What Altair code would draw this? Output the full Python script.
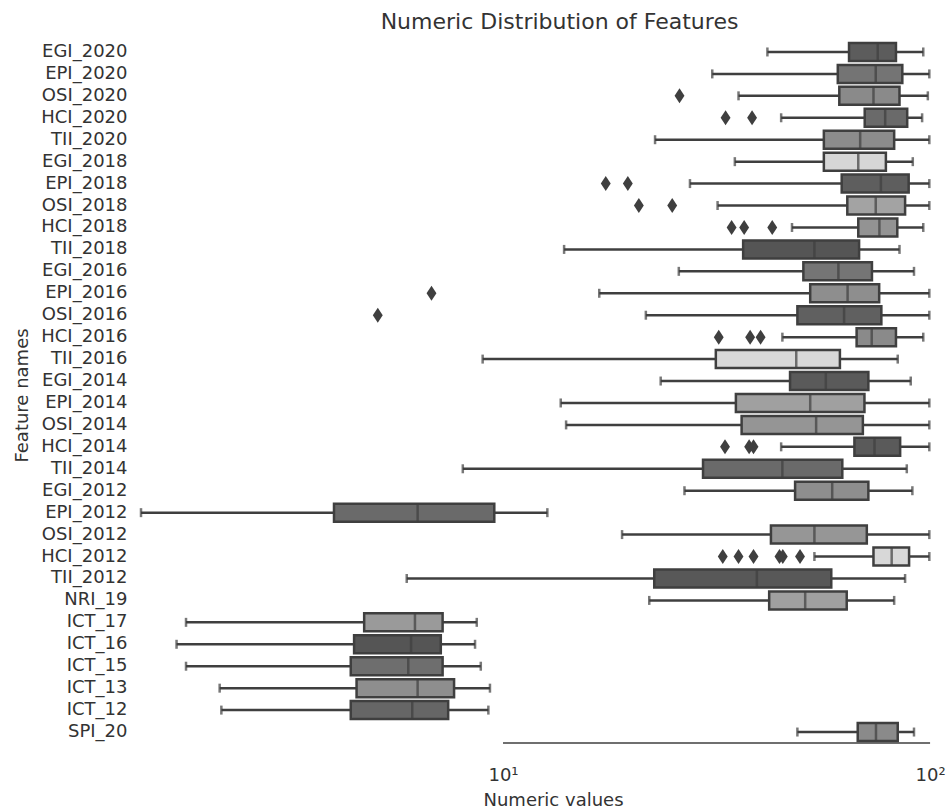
import altair as alt
import pandas as pd

features = ["EGI_2020", "EPI_2020", "OSI_2020", "HCI_2020", "TII_2020",
            "EGI_2018", "EPI_2018", "OSI_2018", "HCI_2018", "TII_2018",
            "EGI_2016", "EPI_2016", "OSI_2016", "HCI_2016", "TII_2016",
            "EGI_2014", "EPI_2014", "OSI_2014", "HCI_2014", "TII_2014",
            "EGI_2012", "EPI_2012", "OSI_2012", "HCI_2012", "TII_2012",
            "NRI_19", "ICT_17", "ICT_16", "ICT_15", "ICT_13", "ICT_12", "SPI_20"]

whisker_low = [41.6, 30.9, 35.6, 44.8, 22.7,
               34.9, 27.4, 31.8, 47.5, 13.9,
               25.8, 16.8, 21.6, 45.1, 8.96,
               23.4, 13.65, 14.05, 44.8, 8.05,
               26.6, 1.42, 19.0, 53.6, 5.95,
               22.0, 1.81, 1.72, 1.81, 2.17, 2.19, 48.9]
q1 = [64.6, 60.8, 61.3, 70.3, 56.4,
      56.4, 62.1, 64.0, 67.9, 36.5,
      50.5, 52.4, 48.9, 67.3, 31.5,
      47.0, 35.1, 36.2, 66.5, 29.4,
      48.3, 4.02, 42.4, 73.7, 22.6,
      42.0, 4.73, 4.48, 4.40, 4.54, 4.40, 67.7]
median = [75.4, 74.6, 73.7, 78.5, 68.6,
          67.9, 76.7, 74.6, 76.1, 53.6,
          61.0, 64.1, 62.9, 73.0, 48.6,
          57.0, 52.4, 54.1, 74.1, 45.1,
          59.0, 6.31, 53.6, 81.3, 39.3,
          51.0, 6.22, 6.09, 6.00, 6.31, 6.13, 74.7]
q3 = [83.2, 86.1, 84.8, 88.4, 82.4,
      78.8, 89.1, 87.4, 83.8, 68.2,
      73.1, 76.0, 76.9, 83.2, 61.5,
      71.7, 70.2, 69.6, 85.1, 62.3,
      71.7, 9.54, 71.1, 89.3, 58.7,
      63.8, 7.22, 7.15, 7.22, 7.68, 7.44, 84.0]
whisker_high = [96.4, 99.6, 98.8, 95.8, 99.6,
                91.1, 99.6, 99.6, 96.4, 84.8,
                91.7, 99.6, 99.6, 96.4, 84.0,
                90.1, 99.6, 99.6, 99.6, 88.2,
                90.9, 12.7, 99.6, 99.6, 87.4,
                82.4, 8.68, 8.60, 8.87, 9.32, 9.24, 91.7]

outlier_features = ["OSI_2020", "HCI_2020", "HCI_2020",
                    "EPI_2018", "EPI_2018", "OSI_2018", "OSI_2018",
                    "HCI_2018", "HCI_2018", "HCI_2018",
                    "EPI_2016", "OSI_2016", "HCI_2016", "HCI_2016", "HCI_2016",
                    "HCI_2014", "HCI_2014", "HCI_2014",
                    "HCI_2012", "HCI_2012", "HCI_2012", "HCI_2012", "HCI_2012", "HCI_2012"]
outlier_values = [25.9, 33.2, 38.3,
                  17.4, 19.6, 20.8, 24.9,
                  34.3, 36.7, 42.7,
                  6.8, 5.09, 32.0, 37.9, 40.1,
                  33.1, 37.7, 38.6,
                  32.7, 35.6, 38.6, 44.4, 45.2, 49.6]

greys = ["#5c5c5c", "#747474", "#8a8a8a", "#6a6a6a", "#8c8c8c",
         "#d6d6d6", "#5e5e5e", "#a3a3a3", "#939393", "#555555",
         "#757575", "#8e8e8e", "#606060", "#8a8a8a", "#d8d8d8",
         "#5a5a5a", "#a0a0a0", "#959595", "#5a5a5a", "#6a6a6a",
         "#8e8e8e", "#6a6a6a", "#969696", "#d8d8d8", "#585858",
         "#a0a0a0", "#9a9a9a", "#555555", "#6e6e6e", "#8e8e8e", "#666666", "#8a8a8a"]

axis_span = [10, 100]

box_df = pd.DataFrame({"feature": features, "lo": whisker_low, "q1": q1,
                       "med": median, "q3": q3, "hi": whisker_high})
out_df = pd.DataFrame({"feature": outlier_features, "value": outlier_values})
span_df = pd.DataFrame({"start": [axis_span[0]], "end": [axis_span[1]]})

FONT = "DejaVu Sans"
TXT = "#333333"
EDGE = "#3f3f3f"

xscale = alt.Scale(type="log", domain=[1.36, 105.5], nice=False, clamp=False)
yscale = alt.Scale(domain=features, paddingInner=0, paddingOuter=0)

x_axis = alt.Axis(values=[10, 100], grid=False, domain=False, ticks=False, tickSize=0,
                  labelExpr="datum.value == 10 ? '10\u00b9' : (datum.value == 100 ? '10\u00b2' : '')",
                  labelFont=FONT, labelFontSize=18, labelColor=TXT,
                  labelBaseline="alphabetic", labelPadding=37,
                  title="Numeric values", titleFont=FONT, titleFontSize=18,
                  titleFontWeight="normal", titleColor=TXT,
                  titleX=420, titleY=62, titleBaseline="alphabetic", titleAlign="center")
y_axis = alt.Axis(grid=False, domain=False, ticks=False, tickSize=0,
                  labelFont=FONT, labelFontSize=18, labelColor=TXT, labelPadding=6,
                  title="Feature names", titleFont=FONT, titleFontSize=18,
                  titleFontWeight="normal", titleColor=TXT,
                  titleX=-106, titleY=354, titleAngle=270,
                  titleAlign="center", titleBaseline="alphabetic")

base = alt.Chart(box_df)

whisk = base.mark_rule(color=EDGE, strokeWidth=2.5).encode(
    x=alt.X("lo:Q", scale=xscale, axis=x_axis),
    x2="hi:Q",
    y=alt.Y("feature:N", scale=yscale, axis=y_axis, sort=features),
)
cap_lo = base.mark_tick(color=EDGE, thickness=2.5, size=9).encode(
    x=alt.X("lo:Q", scale=xscale), y=alt.Y("feature:N", scale=yscale, sort=features))
cap_hi = base.mark_tick(color=EDGE, thickness=2.5, size=9).encode(
    x=alt.X("hi:Q", scale=xscale), y=alt.Y("feature:N", scale=yscale, sort=features))
box = base.mark_bar(size=18, stroke=EDGE, strokeWidth=2.5).encode(
    x=alt.X("q1:Q", scale=xscale),
    x2="q3:Q",
    y=alt.Y("feature:N", scale=yscale, sort=features),
    color=alt.Color("feature:N", scale=alt.Scale(domain=features, range=greys), legend=None),
)
med = base.mark_tick(color=EDGE, thickness=2.5, size=18).encode(
    x=alt.X("med:Q", scale=xscale), y=alt.Y("feature:N", scale=yscale, sort=features))

outl = alt.Chart(out_df).mark_point(
    shape="M0,-1L0.66,0L0,1L-0.66,0Z", filled=True, size=225, color=EDGE, opacity=1
).encode(x=alt.X("value:Q", scale=xscale), y=alt.Y("feature:N", scale=yscale, sort=features))

axis_line = alt.Chart(span_df).mark_rule(color=EDGE, strokeWidth=1.5).encode(
    x=alt.X("start:Q", scale=xscale), x2="end:Q", y=alt.value(702))

chart = alt.layer(whisk, cap_lo, cap_hi, box, med, outl, axis_line).properties(
    width=807, height=702,
    background="white",
    autosize=alt.AutoSizeParams(type="none"),
    padding={"left": 133, "top": 41, "right": 6, "bottom": 66},
    title=alt.TitleParams("Numeric Distribution of Features", font=FONT, fontSize=22,
                          fontWeight="normal", color=TXT, frame="group", anchor="middle",
                          dx=23, dy=23, offset=13, baseline="alphabetic"),
).configure_view(strokeWidth=0, stroke="transparent")

chart.save("out.html", embed_options={"renderer": "svg", "actions": False})
